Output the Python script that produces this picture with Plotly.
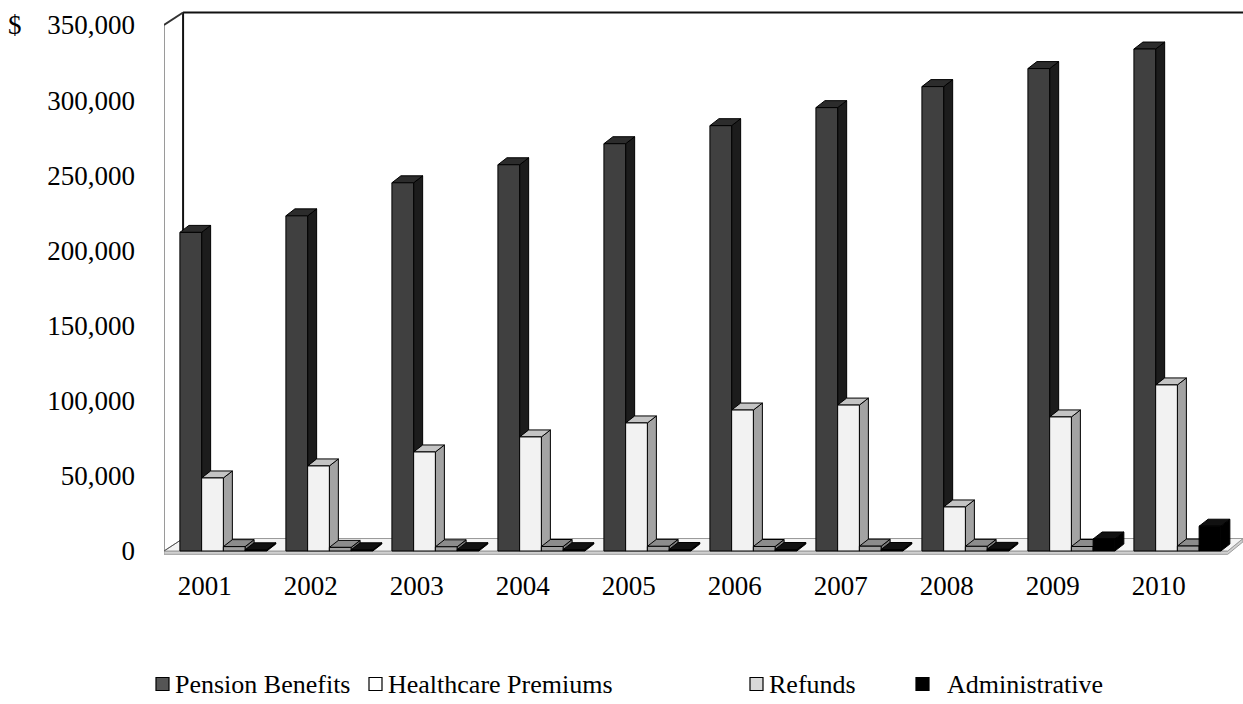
import plotly.graph_objects as go

# ---- data ---------------------------------------------------------------
years = ["2001", "2002", "2003", "2004", "2005", "2006", "2007", "2008", "2009", "2010"]
pension = [212000, 223000, 245000, 257000, 271000, 283000, 295000, 309000, 321000, 334000]
healthcare = [48600, 56600, 65900, 75900, 85200, 93800, 97100, 29300, 89200, 110500]
refunds = [2900, 2400, 2800, 3000, 3100, 3000, 3200, 3100, 3000, 3300]
administrative = [800, 800, 900, 900, 1000, 1000, 1000, 1100, 8000, 16500]
y_ticks = [0, 50000, 100000, 150000, 200000, 250000, 300000, 350000]

# ---- styling --------------------------------------------------------------
FONT = "Liberation Serif"
series = [
    # name, values, front, side, top, legend swatch
    ("Pension Benefits", pension, "#404040", "#1c1c1c", "#2c2c2c", "#555555"),
    ("Healthcare Premiums", healthcare, "#f2f2f2", "#a3a3a3", "#c4c4c4", "#ffffff"),
    ("Refunds", refunds, "#a0a0a0", "#7a7a7a", "#8c8c8c", "#d9d9d9"),
    ("Administrative", administrative, "#000000", "#000000", "#111111", "#000000"),
]

X_RANGE = [-0.575, 9.604]
Y_RANGE = [-2662, 359971]
BAR_W = 0.205          # width of one front face (category units)
FIRST = -0.425         # left edge of the first bar in a group
BAR_DX, BAR_DY = 0.085, 4650     # bar depth offsets
WALL_DX, WALL_DY = 0.18, 8300    # wall depth offsets
TOP = 350000

W, H = 1243, 704
M_L, M_R, M_T, M_B = 164, 0, 10, 149
PLOT_W, PLOT_H = W - M_L - M_R, H - M_T - M_B

fig = go.Figure()


def polys(values, k, face):
    xs, ys = [], []
    for i, v in enumerate(values):
        x0 = i + FIRST + k * BAR_W
        x1 = x0 + BAR_W
        if face == "front":
            pts = [(x0, 0), (x1, 0), (x1, v), (x0, v)]
        elif face == "side":
            pts = [(x1, 0), (x1 + BAR_DX, BAR_DY), (x1 + BAR_DX, v + BAR_DY), (x1, v)]
        else:
            pts = [(x0, v), (x0 + BAR_DX, v + BAR_DY), (x1 + BAR_DX, v + BAR_DY), (x1, v)]
        pts.append(pts[0])
        xs += [p[0] for p in pts] + [None]
        ys += [p[1] for p in pts] + [None]
    return xs, ys


for k, (name, vals, c_front, c_side, c_top, _) in enumerate(series):
    for face, col in (("side", c_side), ("top", c_top), ("front", c_front)):
        xs, ys = polys(vals, k, face)
        fig.add_trace(go.Scatter(
            x=xs, y=ys, mode="lines", fill="toself", fillcolor=col,
            line=dict(color="#000000", width=1), showlegend=False,
            name=name, hoverinfo="skip",
        ))

# ---- walls and floor ------------------------------------------------------
xl_front, xl_back = X_RANGE[0], X_RANGE[0] + WALL_DX
x_floor_end = 9.46
shapes = [
    # floor thickness
    dict(type="path", xref="x", yref="y", layer="below",
         path=f"M{xl_front},0 L{x_floor_end},0 L{X_RANGE[1]},{WALL_DY} "
              f"L{X_RANGE[1]},{WALL_DY - 2200} L{x_floor_end},-2200 L{xl_front},-2200 Z",
         fillcolor="#d0d0d0", line=dict(color="#9a9a9a", width=1)),
    # floor surface
    dict(type="path", xref="x", yref="y", layer="below",
         path=f"M{xl_front},0 L{x_floor_end},0 L{X_RANGE[1]},{WALL_DY} L{xl_back},{WALL_DY} Z",
         fillcolor="#f4f4f4", line=dict(color="#9a9a9a", width=1)),
    # left wall, front edge
    dict(type="line", xref="x", yref="y", layer="below",
         x0=xl_front, y0=0, x1=xl_front, y1=TOP, line=dict(color="#9a9a9a", width=2)),
    # left wall, back edge
    dict(type="line", xref="x", yref="y", layer="below",
         x0=xl_back, y0=WALL_DY, x1=xl_back, y1=TOP + WALL_DY, line=dict(color="#111111", width=2)),
    # left wall, top slant
    dict(type="line", xref="x", yref="y", layer="below",
         x0=xl_front, y0=TOP, x1=xl_back, y1=TOP + WALL_DY, line=dict(color="#333333", width=2)),
    # back wall, top edge
    dict(type="line", xref="x", yref="y", layer="below",
         x0=xl_back, y0=TOP + WALL_DY, x1=X_RANGE[1], y1=TOP + WALL_DY,
         line=dict(color="#111111", width=2)),
    # floor, left slant
    dict(type="line", xref="x", yref="y", layer="below",
         x0=xl_front, y0=0, x1=xl_back, y1=WALL_DY, line=dict(color="#555555", width=1)),
]

annotations = [dict(text="$", xref="paper", yref="y", x=-0.138, y=TOP,
                    xanchor="center", yanchor="middle", showarrow=False,
                    font=dict(family=FONT, size=27))]

# ---- legend row: swatch + label per series --------------------------------
legend_text_px = [173, 386, 767, 945]      # left edge of each label
legend_box_px = [156, 369, 750, 916]       # left edge of each swatch
LEG_Y_PX, BOX = 684, 13
to_px = lambda px: (px - M_L) / PLOT_W
to_py = lambda py: (H - M_B - py) / PLOT_H
for k, (name, _, _, _, _, swatch) in enumerate(series):
    shapes.append(dict(
        type="rect", xref="paper", yref="paper",
        x0=to_px(legend_box_px[k]), x1=to_px(legend_box_px[k] + BOX),
        y0=to_py(LEG_Y_PX + BOX / 2), y1=to_py(LEG_Y_PX - BOX / 2),
        fillcolor=swatch, line=dict(color="#000000", width=1.2),
    ))
    annotations.append(dict(
        text=name, xref="paper", yref="paper", x=to_px(legend_text_px[k]),
        y=to_py(LEG_Y_PX), xanchor="left", yanchor="middle", showarrow=False,
        font=dict(family=FONT, size=26, color="#000000"),
    ))

fig.update_layout(
    width=W, height=H,
    margin=dict(l=M_L, r=M_R, t=M_T, b=M_B),
    paper_bgcolor="#ffffff", plot_bgcolor="#ffffff",
    font=dict(family=FONT, size=27, color="#000000"),
    showlegend=False,
    shapes=shapes,
    annotations=annotations,
    xaxis=dict(range=X_RANGE, showgrid=False, zeroline=False, showline=False,
               tickmode="array", tickvals=[i - 0.19 for i in range(len(years))],
               ticktext=years, ticks="", ticklabelstandoff=12, fixedrange=True,
               tickfont=dict(family=FONT, size=27)),
    yaxis=dict(range=Y_RANGE, showgrid=False, zeroline=False, showline=False,
               tickmode="array", tickvals=y_ticks,
               ticktext=[f"{v:,}" for v in y_ticks], ticks="",
               ticklabelstandoff=28, fixedrange=True,
               tickfont=dict(family=FONT, size=27)),
)

fig.write_html("out.html")
